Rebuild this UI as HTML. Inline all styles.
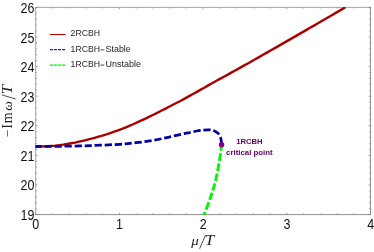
<!DOCTYPE html>
<html><head><meta charset="utf-8"><title>plot</title>
<style>
html,body{margin:0;padding:0;background:#fff;}
body{width:374px;height:252px;overflow:hidden;font-family:"Liberation Sans",sans-serif;}
svg{display:block;will-change:transform;transform:translateZ(0);}
.tk{font-family:"Liberation Sans",sans-serif;font-size:13.9px;fill:#111;}
.lg{font-family:"Liberation Sans",sans-serif;font-size:8.9px;fill:#262626;}
.cp{font-family:"Liberation Sans",sans-serif;font-size:7.7px;font-weight:bold;fill:#640064;}
.ax{font-family:"Liberation Serif",serif;font-size:13px;fill:#222;}
.it{font-style:italic;}
</style></head><body>
<svg width="374" height="252" viewBox="0 0 374 252">
<rect width="374" height="252" fill="#fff"/>
<defs><clipPath id="c"><rect x="35.2" y="6.949999999999999" width="335.75" height="208.05"/></clipPath></defs>
<g fill="none" stroke-width="0.8">
<path d="M35.300000000000004,7.35 H370.84999999999997" stroke="#8a8a8a"/>
<path d="M35.7,7.35 V214.6" stroke="#8a8a8a"/>
<path d="M35.300000000000004,214.6 H370.8" stroke="#626262" stroke-width="0.72"/>
<path d="M370.45,7.35 V214.6" stroke="#626262" stroke-width="0.72"/>
</g>
<path d="M35.70,214.6 v-1.9 M35.70,7.35 v1.9 M52.44,214.6 v-1.25 M52.44,7.35 v1.25 M69.18,214.6 v-1.25 M69.18,7.35 v1.25 M85.91,214.6 v-1.25 M85.91,7.35 v1.25 M102.65,214.6 v-1.25 M102.65,7.35 v1.25 M119.39,214.6 v-1.9 M119.39,7.35 v1.9 M136.12,214.6 v-1.25 M136.12,7.35 v1.25 M152.86,214.6 v-1.25 M152.86,7.35 v1.25 M169.60,214.6 v-1.25 M169.60,7.35 v1.25 M186.34,214.6 v-1.25 M186.34,7.35 v1.25 M203.07,214.6 v-1.9 M203.07,7.35 v1.9 M219.81,214.6 v-1.25 M219.81,7.35 v1.25 M236.55,214.6 v-1.25 M236.55,7.35 v1.25 M253.29,214.6 v-1.25 M253.29,7.35 v1.25 M270.03,214.6 v-1.25 M270.03,7.35 v1.25 M286.76,214.6 v-1.9 M286.76,7.35 v1.9 M303.50,214.6 v-1.25 M303.50,7.35 v1.25 M320.24,214.6 v-1.25 M320.24,7.35 v1.25 M336.98,214.6 v-1.25 M336.98,7.35 v1.25 M353.71,214.6 v-1.25 M353.71,7.35 v1.25 M370.45,214.6 v-1.9 M370.45,7.35 v1.9 M35.7,214.60 h1.9 M370.45,214.60 h-1.9 M35.7,208.68 h1.25 M370.45,208.68 h-1.25 M35.7,202.76 h1.25 M370.45,202.76 h-1.25 M35.7,196.84 h1.25 M370.45,196.84 h-1.25 M35.7,190.91 h1.25 M370.45,190.91 h-1.25 M35.7,184.99 h1.9 M370.45,184.99 h-1.9 M35.7,179.07 h1.25 M370.45,179.07 h-1.25 M35.7,173.15 h1.25 M370.45,173.15 h-1.25 M35.7,167.23 h1.25 M370.45,167.23 h-1.25 M35.7,161.31 h1.25 M370.45,161.31 h-1.25 M35.7,155.39 h1.9 M370.45,155.39 h-1.9 M35.7,149.46 h1.25 M370.45,149.46 h-1.25 M35.7,143.54 h1.25 M370.45,143.54 h-1.25 M35.7,137.62 h1.25 M370.45,137.62 h-1.25 M35.7,131.70 h1.25 M370.45,131.70 h-1.25 M35.7,125.78 h1.9 M370.45,125.78 h-1.9 M35.7,119.86 h1.25 M370.45,119.86 h-1.25 M35.7,113.94 h1.25 M370.45,113.94 h-1.25 M35.7,108.01 h1.25 M370.45,108.01 h-1.25 M35.7,102.09 h1.25 M370.45,102.09 h-1.25 M35.7,96.17 h1.9 M370.45,96.17 h-1.9 M35.7,90.25 h1.25 M370.45,90.25 h-1.25 M35.7,84.33 h1.25 M370.45,84.33 h-1.25 M35.7,78.41 h1.25 M370.45,78.41 h-1.25 M35.7,72.49 h1.25 M370.45,72.49 h-1.25 M35.7,66.56 h1.9 M370.45,66.56 h-1.9 M35.7,60.64 h1.25 M370.45,60.64 h-1.25 M35.7,54.72 h1.25 M370.45,54.72 h-1.25 M35.7,48.80 h1.25 M370.45,48.80 h-1.25 M35.7,42.88 h1.25 M370.45,42.88 h-1.25 M35.7,36.96 h1.9 M370.45,36.96 h-1.9 M35.7,31.04 h1.25 M370.45,31.04 h-1.25 M35.7,25.11 h1.25 M370.45,25.11 h-1.25 M35.7,19.19 h1.25 M370.45,19.19 h-1.25 M35.7,13.27 h1.25 M370.45,13.27 h-1.25 M35.7,7.35 h1.9 M370.45,7.35 h-1.9 " stroke="#858585" stroke-width="0.75" fill="none"/>
<g clip-path="url(#c)" fill="none">
<path d="M35.8,146.5 L39.7,146.5 L43.6,146.4 L47.6,146.2 L51.5,145.9 L55.4,145.6 L59.3,145.1 L63.2,144.6 L67.1,144.0 L71.1,143.3 L75.0,142.6 L78.9,141.7 L82.8,140.8 L86.7,139.9 L90.6,138.9 L94.6,137.8 L98.5,136.7 L102.4,135.6 L106.3,134.4 L110.2,133.1 L114.2,131.7 L118.1,130.3 L122.0,128.9 L125.9,127.3 L129.8,125.7 L133.7,124.0 L137.7,122.2 L141.6,120.4 L145.5,118.6 L149.4,116.7 L153.3,114.7 L157.2,112.8 L161.2,110.8 L165.1,108.9 L169.0,106.8 L172.9,104.8 L176.8,102.7 L180.8,100.7 L184.7,98.6 L188.6,96.4 L192.5,94.3 L196.4,92.1 L200.3,89.9 L204.3,87.7 L208.2,85.4 L212.1,83.2 L216.0,81.0 L219.9,78.9 L223.9,76.7 L227.8,74.6 L231.7,72.4 L235.6,70.2 L239.5,68.1 L243.4,65.9 L247.4,63.7 L251.3,61.5 L255.2,59.3 L259.1,57.1 L263.0,54.8 L266.9,52.6 L270.9,50.3 L274.8,48.1 L278.7,45.9 L282.6,43.6 L286.5,41.4 L290.5,39.1 L294.4,36.9 L298.3,34.6 L302.2,32.4 L306.1,30.1 L310.0,27.8 L314.0,25.6 L317.9,23.3 L321.8,21.0 L325.7,18.7 L329.6,16.5 L333.5,14.2 L337.5,11.9 L341.4,9.6 L345.3,7.3" stroke="#ac0000" stroke-width="2.4" stroke-linejoin="round"/>
<path d="M35.2,146.5 C39.3,146.5 50.9,146.5 60.0,146.3 C69.1,146.2 80.0,145.9 90.0,145.6 C100.0,145.3 112.3,144.8 120.0,144.3 C127.7,143.8 130.7,143.3 136.0,142.7 C141.3,142.1 146.8,141.4 152.1,140.5 C157.4,139.6 162.8,138.5 168.1,137.3 C173.4,136.2 180.5,134.4 184.2,133.6 C187.8,132.8 187.9,132.9 190.0,132.5 C192.1,132.1 194.5,131.4 196.7,131.0 C198.9,130.6 201.4,130.3 203.4,130.1 C205.4,129.9 206.9,129.7 208.7,129.8 C210.5,129.9 212.5,130.1 214.1,130.7 C215.7,131.3 217.0,132.3 218.1,133.4 C219.2,134.5 219.9,136.0 220.5,137.4 C221.1,138.8 221.2,140.9 221.4,142.1 C221.6,143.3 221.6,144.3 221.7,144.7" stroke="#0000a8" stroke-width="2.75" stroke-dasharray="7.2 2.8" stroke-dashoffset="0.5"/>
<path d="M221.6,144.6 C221.3,146.7 220.9,151.4 220.0,157.0 C219.1,162.6 217.7,171.5 216.2,178.0 C214.7,184.5 213.0,189.8 211.0,196.0 C209.0,202.2 205.2,211.8 204.0,215.0" stroke="#00fa00" stroke-width="2.9" stroke-dasharray="7.6 2.5" stroke-dashoffset="1.2"/>
</g>
<circle cx="221.6" cy="144.7" r="2.7" fill="#7e007e"/>
<g class="tk"><text transform="translate(34.4,219.9) scale(0.9,1)" text-anchor="end">19</text><text transform="translate(34.4,190.3) scale(0.9,1)" text-anchor="end">20</text><text transform="translate(34.4,160.7) scale(0.9,1)" text-anchor="end">21</text><text transform="translate(34.4,131.2) scale(0.9,1)" text-anchor="end">22</text><text transform="translate(34.4,101.6) scale(0.9,1)" text-anchor="end">23</text><text transform="translate(34.4,72.1) scale(0.9,1)" text-anchor="end">24</text><text transform="translate(34.4,42.5) scale(0.9,1)" text-anchor="end">25</text><text transform="translate(34.4,12.9) scale(0.9,1)" text-anchor="end">26</text><text transform="translate(35.8,228.9) scale(0.9,1)" text-anchor="middle">0</text><text transform="translate(119.5,228.9) scale(0.9,1)" text-anchor="middle">1</text><text transform="translate(203.2,228.9) scale(0.9,1)" text-anchor="middle">2</text><text transform="translate(286.9,228.9) scale(0.9,1)" text-anchor="middle">3</text><text transform="translate(370.6,228.9) scale(0.9,1)" text-anchor="middle">4</text></g>
<g fill="none">
<path d="M50,34.5 H65.5" stroke="#b80000" stroke-width="1.1"/>
<path d="M50.1,49.65 H65.1" stroke="#1c1cc8" stroke-width="1.15" stroke-dasharray="3.05 0.9"/>
<path d="M50.1,65.1 H65.1" stroke="#00f000" stroke-width="1.25" stroke-dasharray="3.05 0.9"/>
</g>
<g class="lg">
<text x="70.6" y="36.3" textLength="29.4" lengthAdjust="spacingAndGlyphs">2RCBH</text>
<text x="70.6" y="51.8" textLength="29.4" lengthAdjust="spacingAndGlyphs">1RCBH</text><text x="105.6" y="51.8" textLength="25.2" lengthAdjust="spacingAndGlyphs">Stable</text>
<text x="70.6" y="66.9" textLength="29.4" lengthAdjust="spacingAndGlyphs">1RCBH</text><text x="105.4" y="66.9" textLength="35.5" lengthAdjust="spacingAndGlyphs">Unstable</text>
<path d="M100.4,49.9 H104.2 M100.4,65.1 H104.2" stroke="#333" stroke-width="0.9" fill="none"/>
</g>
<g class="cp" text-anchor="middle">
<text x="249.4" y="144.4">1RCBH</text>
<text x="249.4" y="154.9" textLength="46.6" lengthAdjust="spacingAndGlyphs">critical point</text>
</g>
<g class="ax">
<text transform="translate(191.3,245.4) scale(1.12,1)" class="it" font-size="13.5">&#956;</text>
<path d="M205.6,234.9 L199.6,248.8" stroke="#222" stroke-width="0.8" fill="none"/>
<text transform="translate(204.7,245.4) scale(1.22,1)" class="it" font-size="14">T</text>
<g transform="translate(12.3,137.2) rotate(-90)">
<text x="0" y="0">&#8722;</text>
<text x="8.4" y="0" font-size="14">I</text>
<text x="13.9" y="0" font-size="14">m</text>
<text x="26.5" y="0" class="it" font-size="13.5">&#969;</text>
<path d="M38.2,3.4 L42.3,-10.5" stroke="#222" stroke-width="0.8" fill="none"/>
<text transform="translate(42.9,0) scale(1.2,1)" class="it" font-size="14">T</text>
</g>
</g>
</svg>
</body></html>
